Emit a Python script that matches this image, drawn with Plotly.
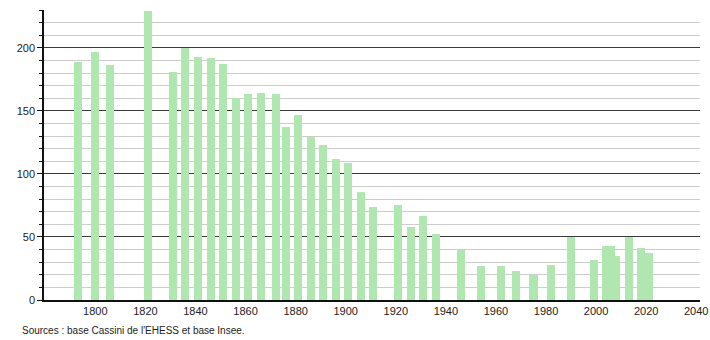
import plotly.graph_objects as go

years = [1793, 1800, 1806, 1821, 1831, 1836, 1841, 1846, 1851, 1856,
         1861, 1866, 1872, 1876, 1881, 1886, 1891, 1896, 1901, 1906,
         1911, 1921, 1926, 1931, 1936, 1946, 1954, 1962, 1968, 1975,
         1982, 1990, 1999, 2004, 2006, 2008, 2013, 2018, 2021]
population = [189, 197, 186, 229, 181, 200, 193, 192, 187, 160,
              163, 164, 163, 137, 147, 129, 123, 112, 109, 86,
              74, 75, 58, 67, 52, 40, 27, 27, 23, 20,
              28, 50, 32, 43, 43, 35, 50, 41, 37]
x_ticks = [1800, 1820, 1840, 1860, 1880, 1900, 1920, 1940, 1960, 1980, 2000, 2020, 2040]
y_ticks = [0, 50, 100, 150, 200]
source_text = "Sources : base Cassini de l'EHESS et base Insee."

FONT = "Liberation Sans, Arial, sans-serif"

fig = go.Figure()
fig.add_trace(go.Bar(
    x=years, y=population, width=3.2,
    marker=dict(color="#b0e6b0", line=dict(width=0)),
    hoverinfo="x+y",
))

fig.update_layout(
    width=710, height=340,
    margin=dict(l=44, r=10, t=10, b=40, autoexpand=False),
    plot_bgcolor="white", paper_bgcolor="white",
    showlegend=False,
    font=dict(family=FONT, size=11, color="#222"),
    xaxis=dict(
        range=[1779.5, 2041.5],
        tickmode="array", tickvals=x_ticks,
        showgrid=False, zeroline=False,
        showline=True, linecolor="#111", linewidth=1.5,
        ticks="", tickfont=dict(size=11, color="#222"),
        automargin=False, fixedrange=True,
    ),
    yaxis=dict(
        range=[0, 230],
        tickmode="array", tickvals=y_ticks,
        showgrid=True, gridcolor="#3a3a3a", gridwidth=1,
        zeroline=False,
        showline=True, linecolor="#111", linewidth=1.5,
        ticks="outside", ticklen=5, tickcolor="#111", tickwidth=1,
        tickfont=dict(size=11, color="#222"),
        minor=dict(dtick=10, tick0=0, showgrid=True, gridcolor="#cccccc",
                   gridwidth=1, ticks="outside", ticklen=3, tickcolor="#111"),
        automargin=False, fixedrange=True,
    ),
    bargap=0,
)

fig.add_annotation(
    text=source_text, xref="paper", yref="paper",
    x=(20 - 44) / 656, y=-30 / 290, xanchor="left", yanchor="middle",
    showarrow=False, font=dict(family=FONT, size=10, color="#222"),
)

fig.write_html("out.html")
